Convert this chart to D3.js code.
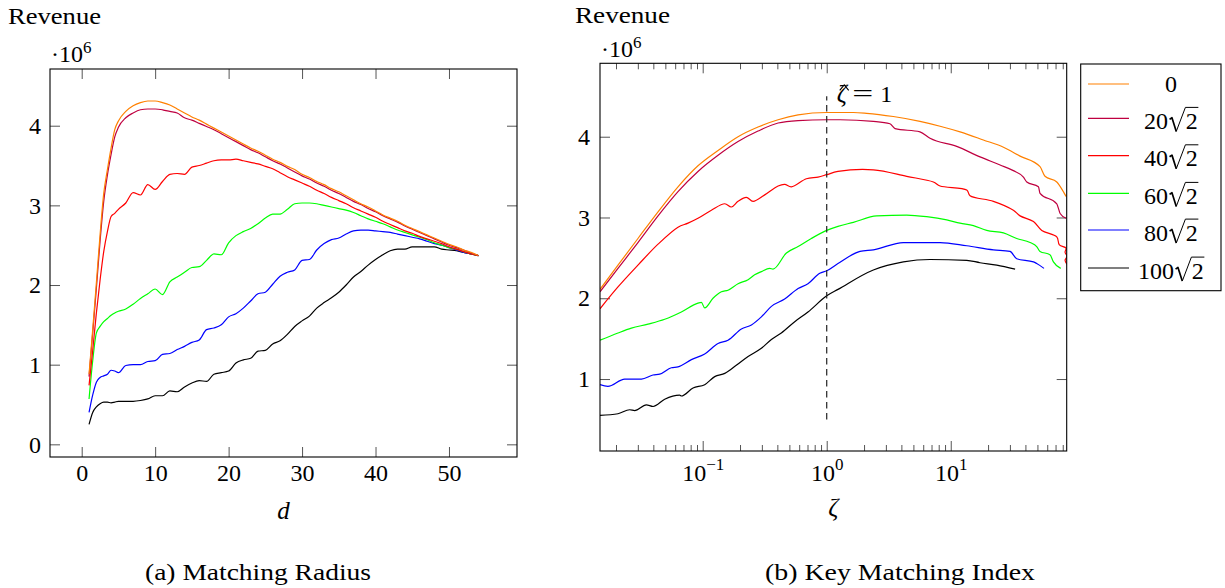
<!DOCTYPE html>
<html><head><meta charset="utf-8">
<script src="https://cdn.jsdelivr.net/npm/d3@7"></script>
<style>
body{margin:0;background:#fff}
svg{display:block}
</style>
</head><body>
<svg id="c" width="1225" height="588" font-family="Liberation Serif"></svg>
<script>
// ---------------- DATA ----------------
// Panel (a): matching radius d
const radiusD = [1,1.5,2,2.5,3,3.5,4,4.5,5,6,7,8,9,10,11,12,13,14,15,16,17,18,19,20,21,22,23,24,25,26,27,28,29,30,31,32,33,34,35,36,37,38,39,40,41,42,43,44,45,46,47,48,49,50,51,52,53,54];
const revA0   = [0.88,1.44,2.03,2.63,3.15,3.45,3.72,3.95,4.06,4.18,4.25,4.29,4.31,4.31,4.29,4.26,4.21,4.16,4.11,4.07,4.02,3.97,3.92,3.87,3.82,3.77,3.72,3.68,3.63,3.58,3.54,3.49,3.45,3.39,3.35,3.30,3.26,3.21,3.17,3.12,3.07,3.02,2.98,2.93,2.88,2.84,2.80,2.75,2.71,2.67,2.63,2.59,2.55,2.51,2.48,2.44,2.41,2.37];
const revA20  = [0.85,1.40,1.96,2.55,3.05,3.38,3.64,3.86,3.98,4.10,4.16,4.20,4.21,4.21,4.20,4.18,4.16,4.10,4.07,4.03,3.99,3.95,3.90,3.85,3.80,3.75,3.70,3.66,3.61,3.56,3.52,3.47,3.42,3.37,3.33,3.28,3.24,3.19,3.15,3.10,3.05,3.01,2.96,2.92,2.87,2.83,2.79,2.74,2.70,2.66,2.62,2.58,2.54,2.50,2.47,2.44,2.40,2.37];
const revA40  = [0.74,1.18,1.65,2.06,2.42,2.67,2.86,2.90,2.95,3.03,3.16,3.13,3.26,3.20,3.30,3.39,3.40,3.39,3.48,3.50,3.53,3.56,3.57,3.57,3.58,3.56,3.54,3.52,3.49,3.46,3.41,3.36,3.32,3.28,3.24,3.19,3.15,3.10,3.06,3.02,2.97,2.93,2.89,2.85,2.80,2.76,2.72,2.68,2.65,2.61,2.58,2.55,2.52,2.48,2.45,2.42,2.39,2.37];
const revA60  = [0.57,1.05,1.40,1.48,1.54,1.58,1.62,1.65,1.67,1.70,1.76,1.83,1.89,1.95,1.88,2.04,2.10,2.16,2.22,2.23,2.31,2.39,2.38,2.53,2.62,2.67,2.71,2.77,2.84,2.89,2.89,2.95,3.02,3.03,3.03,3.02,3.00,2.98,2.96,2.94,2.91,2.87,2.83,2.80,2.77,2.73,2.69,2.66,2.63,2.60,2.57,2.53,2.50,2.47,2.45,2.42,2.39,2.37];
const revA80  = [0.40,0.62,0.78,0.84,0.86,0.88,0.93,0.92,0.90,0.99,1.00,1.00,1.04,1.05,1.13,1.14,1.19,1.23,1.28,1.31,1.44,1.46,1.50,1.60,1.64,1.71,1.80,1.89,1.91,2.01,2.11,2.16,2.19,2.31,2.32,2.44,2.52,2.57,2.59,2.64,2.68,2.69,2.69,2.68,2.67,2.66,2.64,2.62,2.60,2.58,2.55,2.52,2.50,2.47,2.44,2.41,2.39,2.37];
const revA100 = [0.25,0.40,0.47,0.51,0.53,0.53,0.52,0.53,0.54,0.54,0.54,0.55,0.57,0.61,0.61,0.67,0.66,0.72,0.77,0.80,0.79,0.88,0.90,0.92,1.02,1.06,1.08,1.17,1.18,1.26,1.30,1.38,1.48,1.55,1.61,1.71,1.78,1.84,1.91,2.00,2.10,2.17,2.25,2.32,2.38,2.43,2.45,2.45,2.48,2.48,2.48,2.48,2.45,2.44,2.43,2.41,2.39,2.37];

// Panel (b): key matching index zeta (log axis)
const zetaB0   = [0.01486,0.02075,0.03006,0.04365,0.06324,0.09162,0.1330,0.1928,0.2793,0.4055,0.5875,1,1.641,2.099,3.443,5.649,8.204,11.89,18.32,26.61,36.22,52.48,57.54,71.61,80.91,85.11];
const revB0    = [2.11,2.41,2.74,3.07,3.38,3.64,3.83,4.00,4.12,4.21,4.27,4.30,4.30,4.29,4.25,4.19,4.13,4.06,3.96,3.87,3.76,3.63,3.51,3.44,3.32,3.26];
const zetaB20  = [0.01486,0.02075,0.03006,0.04365,0.06324,0.09162,0.1330,0.1928,0.2793,0.4055,0.5875,1,1.280,2.377,3.236,3.556,5.649,6.808,11.17,17.22,25.00,31.99,38.55,41.02,50.93,52.48,71.61,76.21,85.11];
const revB20   = [2.08,2.37,2.69,3.02,3.32,3.57,3.77,3.94,4.07,4.17,4.20,4.21,4.21,4.19,4.16,4.10,4.06,3.98,3.88,3.75,3.65,3.58,3.50,3.44,3.38,3.30,3.17,3.05,2.99];
const zetaB40  = [0.01486,0.02075,0.03006,0.04365,0.06324,0.07621,0.09162,0.1175,0.1507,0.1702,0.1928,0.2249,0.2547,0.3162,0.4055,0.4581,0.5188,0.6855,0.8511,1,1.233,2.377,4.416,7.244,8.204,13.46,14.32,22.08,31.99,36.22,46.45,54.20,71.61,75.16,85.11,83.5,86.5,83.5,86.5];
const revB40   = [1.87,2.14,2.41,2.67,2.88,2.93,2.99,3.09,3.17,3.13,3.20,3.25,3.20,3.28,3.39,3.41,3.38,3.48,3.50,3.53,3.57,3.59,3.51,3.44,3.39,3.34,3.27,3.20,3.09,3.02,2.95,2.84,2.76,2.66,2.62,2.57,2.52,2.47,2.42];
const zetaB60  = [0.01486,0.02075,0.02661,0.03622,0.04943,0.06730,0.09162,0.09750,0.1038,0.1211,0.1416,0.1600,0.1928,0.2323,0.2624,0.2972,0.3467,0.3690,0.4732,0.5875,0.7516,1,1.233,1.641,2.529,4.416,6.397,9.290,11.89,15.24,19.50,26.61,34.04,43.65,49.32,52.48,63.10,67.30,77.09];
const revB60   = [1.48,1.57,1.63,1.68,1.74,1.83,1.94,1.95,1.88,2.00,2.08,2.10,2.18,2.23,2.29,2.33,2.37,2.36,2.56,2.64,2.74,2.84,2.89,2.94,3.02,3.03,3.01,2.97,2.93,2.90,2.84,2.81,2.74,2.69,2.64,2.58,2.54,2.45,2.37];
const zetaB80  = [0.01486,0.0172,0.0235,0.0321,0.0397,0.0450,0.0559,0.0632,0.0811,0.1038,0.1330,0.1600,0.2051,0.2472,0.2972,0.3581,0.4581,0.5875,0.7063,0.8790,1,1.233,1.854,2.377,4.150,8.204,13.46,22.08,30.06,34.04,46.45,49.32,56.49];
const revB80   = [0.93,0.91,1.00,1.00,1.05,1.06,1.14,1.15,1.24,1.31,1.44,1.48,1.62,1.67,1.77,1.90,1.99,2.12,2.18,2.31,2.34,2.43,2.58,2.60,2.69,2.69,2.65,2.60,2.58,2.49,2.45,2.43,2.37];
const zetaB100 = [0.01486,0.02075,0.0258,0.0283,0.0351,0.0398,0.0494,0.0652,0.0673,0.0836,0.1038,0.1250,0.1507,0.1866,0.2323,0.2972,0.3581,0.4305,0.5521,0.7063,1,1.233,2.377,4.150,6.808,13.46,17.22,23.50,33.04];
const revB100  = [0.55,0.57,0.62,0.61,0.68,0.66,0.75,0.80,0.79,0.89,0.93,1.03,1.07,1.17,1.28,1.38,1.49,1.57,1.71,1.83,2.03,2.11,2.35,2.45,2.48,2.47,2.44,2.41,2.36];

const seriesNames  = ["0","20√2","40√2","60√2","80√2","100√2"];
const seriesColors = ["#ff8000","#bf0040","#ff0000","#00ff00","#0000ff","#000000"];

const xTicksA = [0,10,20,30,40,50];
const yTicksA = [0,1,2,3,4];
const xMajorB = [0.1,1,10];
const xMajorLabelB = ["−1","0","1"];
const xMinorB = [0.02,0.03,0.04,0.05,0.06,0.07,0.08,0.09,0.2,0.3,0.4,0.5,0.6,0.7,0.8,0.9,2,3,4,5,6,7,8,9,20,30,40,50,60,70,80];
const yTicksB = [1,2,3,4];
const refZeta = 1, refLow = 0.5, refHigh = 4.5;

// ---------------- DRAWING ----------------
const FONT = "Liberation Serif";
const FS = 24;
const svg = d3.select('#c');
const TICKC = '#555';

function styleAxis(g, showText){
  g.attr('font-family', FONT).attr('font-size', FS);
  g.select('.domain').remove();
  g.selectAll('.tick line').attr('stroke', TICKC).attr('stroke-width', 1);
  if(!showText) g.selectAll('.tick text').remove();
  else g.selectAll('.tick text').attr('font-size', FS).attr('fill','#000').attr('font-family', FONT);
}
function clip(P){
  const clipId = 'clip' + P.id;
  svg.append('clipPath').attr('id', clipId).append('rect')
     .attr('x', P.x0).attr('y', P.y0).attr('width', P.x1-P.x0).attr('height', P.y1-P.y0);
  return clipId;
}
function tx(x,y,s,opts={}){
  const t = svg.append('text').attr('x',x).attr('y',y).attr('font-family',FONT)
    .attr('font-size',opts.fs||FS).attr('fill','#000').text(s);
  if(opts.anchor) t.attr('text-anchor',opts.anchor);
  if(opts.italic) t.attr('font-style','italic');
  if(opts.len) t.attr('textLength',opts.len).attr('lengthAdjust','spacingAndGlyphs');
  return t;
}

// Panel A
const A = {id:'A', x0:50, x1:517, y0:69, y1:457};
const xA = d3.scaleLinear().domain([-4.315, 59.26]).range([A.x0, A.x1]);
const yA = d3.scaleLinear().domain([-0.159, 4.712]).range([A.y1, A.y0]);
const clipA = clip(A);

svg.append('g').attr('transform',`translate(0,${A.y1})`)
  .call(d3.axisBottom(xA).tickValues(xTicksA).tickSize(-10).tickPadding(7).tickFormat(d3.format('d')))
  .call(g=>styleAxis(g,true));
svg.append('g').attr('transform',`translate(0,${A.y0})`)
  .call(d3.axisTop(xA).tickValues(xTicksA).tickSize(-10))
  .call(g=>styleAxis(g,false));
svg.append('g').attr('transform',`translate(${A.x0},0)`)
  .call(d3.axisLeft(yA).tickValues(yTicksA).tickSize(-10).tickPadding(9).tickFormat(d3.format('d')))
  .call(g=>styleAxis(g,true));
svg.append('g').attr('transform',`translate(${A.x1},0)`)
  .call(d3.axisRight(yA).tickValues(yTicksA).tickSize(-10))
  .call(g=>styleAxis(g,false));

const seriesA = [revA0, revA20, revA40, revA60, revA80, revA100];
const lineA = d3.line().x(d=>xA(d[0])).y(d=>yA(d[1])).curve(d3.curveMonotoneX);
const gA = svg.append('g').attr('clip-path', `url(#${clipA})`);
seriesA.slice().reverse().forEach((vals, ri) => {
  const i = seriesA.length - 1 - ri;
  gA.append('path').datum(radiusD.map((d,k)=>[d, vals[k]]))
    .attr('d', lineA).attr('fill','none').attr('stroke', seriesColors[i]).attr('stroke-width',1.2);
});
svg.append('rect').attr('x',A.x0).attr('y',A.y0).attr('width',A.x1-A.x0).attr('height',A.y1-A.y0)
  .attr('fill','none').attr('stroke','#000').attr('stroke-width',1.1);

// Panel B
const B = {id:'B', x0:600, x1:1066.7, y0:63.3, y1:451};
const xB = d3.scaleLog().domain([0.01486, 86.1]).range([B.x0, B.x1]);
const yB = d3.scaleLinear().domain([0.109, 4.909]).range([B.y1, B.y0]);
const clipB = clip(B);

const gxb = svg.append('g').attr('transform',`translate(0,${B.y1})`)
  .call(d3.axisBottom(xB).tickValues(xMajorB).tickSize(-10).tickPadding(10).tickFormat(()=>''))
  .call(g=>styleAxis(g,true));
gxb.selectAll('.tick text').each(function(d,i){
  const t = d3.select(this);
  t.attr('dy', null).attr('y', 30);
  t.append('tspan').text('10');
  t.append('tspan').attr('dy', -11).attr('font-size', 17).text(xMajorLabelB[i]);
});
svg.append('g').attr('transform',`translate(0,${B.y1})`)
  .call(d3.axisBottom(xB).tickValues(xMinorB).tickSize(-6))
  .call(g=>styleAxis(g,false));
svg.append('g').attr('transform',`translate(0,${B.y0})`)
  .call(d3.axisTop(xB).tickValues(xMajorB).tickSize(-10))
  .call(g=>styleAxis(g,false));
svg.append('g').attr('transform',`translate(0,${B.y0})`)
  .call(d3.axisTop(xB).tickValues(xMinorB).tickSize(-6))
  .call(g=>styleAxis(g,false));
svg.append('g').attr('transform',`translate(${B.x0},0)`)
  .call(d3.axisLeft(yB).tickValues(yTicksB).tickSize(-10).tickPadding(10).tickFormat(d3.format('d')))
  .call(g=>styleAxis(g,true));
svg.append('g').attr('transform',`translate(${B.x1},0)`)
  .call(d3.axisRight(yB).tickValues(yTicksB).tickSize(-10))
  .call(g=>styleAxis(g,false));

const seriesB = [[zetaB0,revB0],[zetaB20,revB20],[zetaB40,revB40],[zetaB60,revB60],[zetaB80,revB80],[zetaB100,revB100]];
const gB = svg.append('g').attr('clip-path', `url(#${clipB})`);
seriesB.slice().reverse().forEach((s, ri) => {
  const i = seriesB.length - 1 - ri;
  const curve = i === 2 ? d3.curveCatmullRom.alpha(0.5) : d3.curveMonotoneX;
  const line = d3.line().x(d=>xB(d[0])).y(d=>yB(d[1])).curve(curve);
  gB.append('path').datum(s[0].map((z,k)=>[z, s[1][k]]))
    .attr('d', line).attr('fill','none').attr('stroke', seriesColors[i]).attr('stroke-width',1.2);
});
// reference dashed line
svg.append('line').attr('x1',xB(refZeta)).attr('x2',xB(refZeta)).attr('y1',yB(refLow)).attr('y2',yB(refHigh))
  .attr('stroke','#222').attr('stroke-width',1.2).attr('stroke-dasharray','6.5,4.5');
svg.append('rect').attr('x',B.x0).attr('y',B.y0).attr('width',B.x1-B.x0).attr('height',B.y1-B.y0)
  .attr('fill','none').attr('stroke','#000').attr('stroke-width',1.1);

// reference label  \hat{zeta} = 1
const lx = xB(refZeta) + 10, lb = yB(refHigh) + 6;
tx(lx, lb, 'ζ', {fs:25, italic:true});
svg.append('path').attr('d', `M${lx+3},${lb-12} L${lx+7.5},${lb-17.5} L${lx+12},${lb-12}`)
  .attr('fill','none').attr('stroke','#000').attr('stroke-width',1.1);
tx(lx+15.5, lb, '=', {fs:25, len:21});
tx(lx+43.5, lb, '1', {fs:24});

// axis titles
tx(8, 24, 'Revenue', {len:93});
tx(575, 23, 'Revenue', {len:95});
function power(x,y){
  const t = svg.append('text').attr('x',x).attr('y',y).attr('font-family',FONT).attr('font-size',24);
  t.append('tspan').text('·10');
  t.append('tspan').attr('dy',-9).attr('font-size',17).text('6');
}
power(51, 61.7);
power(601, 56.7);
tx((A.x0+A.x1)/2, 519, 'd', {anchor:'middle', italic:true, fs:25});
tx((B.x0+B.x1)/2, 516, 'ζ', {anchor:'middle', italic:true, fs:25});
tx(258, 580, '(a) Matching Radius', {anchor:'middle', len:226});
tx(900, 580, '(b) Key Matching Index', {anchor:'middle', len:270});

// legend
const LG = {x0:1080.7, y0:64, x1:1221, y1:290.7};
svg.append('rect').attr('x',LG.x0).attr('y',LG.y0).attr('width',LG.x1-LG.x0).attr('height',LG.y1-LG.y0)
  .attr('fill','#fff').attr('stroke','#000').attr('stroke-width',1.1);
const rowY = [84,118.3,155.7,193.3,230,268];
seriesNames.forEach((name,i)=>{
  const y = rowY[i];
  svg.append('line').attr('x1',1088).attr('x2',1129).attr('y1',y).attr('y2',y)
    .attr('stroke',seriesColors[i]).attr('stroke-width',1.2);
  const cx = 1171;
  const parts = name.split('√');
  const F = 24;
  if(parts.length === 1){
    tx(cx, y+8, name, {anchor:'middle', fs:F});
  } else {
    const g = svg.append('g');
    const t1 = g.append('text').attr('x',0).attr('y',0).attr('font-family',FONT).attr('font-size',F).text(parts[0]);
    const w1 = t1.node().getComputedTextLength();
    const rw = 0.74*F;
    const t2 = g.append('text').attr('x',w1+rw).attr('y',0).attr('font-family',FONT).attr('font-size',F).text(parts[1]);
    const w2 = t2.node().getComputedTextLength();
    const W = w1+rw+w2;
    g.attr('transform',`translate(${cx-W/2},${y+10.7})`);
    g.append('path').attr('d',`M${w1+0.06*F},${-0.40*F} L${w1+0.16*F},${-0.47*F} L${w1+0.34*F},${0.1*F}`)
      .attr('fill','none').attr('stroke','#000').attr('stroke-width',1.7).attr('stroke-linejoin','round');
    g.append('path').attr('d',`M${w1+0.34*F},${0.1*F} L${w1+0.72*F},${-0.9*F} L${W+0.02*F},${-0.9*F}`)
      .attr('fill','none').attr('stroke','#000').attr('stroke-width',1);
  }
});
</script>
</body></html>
